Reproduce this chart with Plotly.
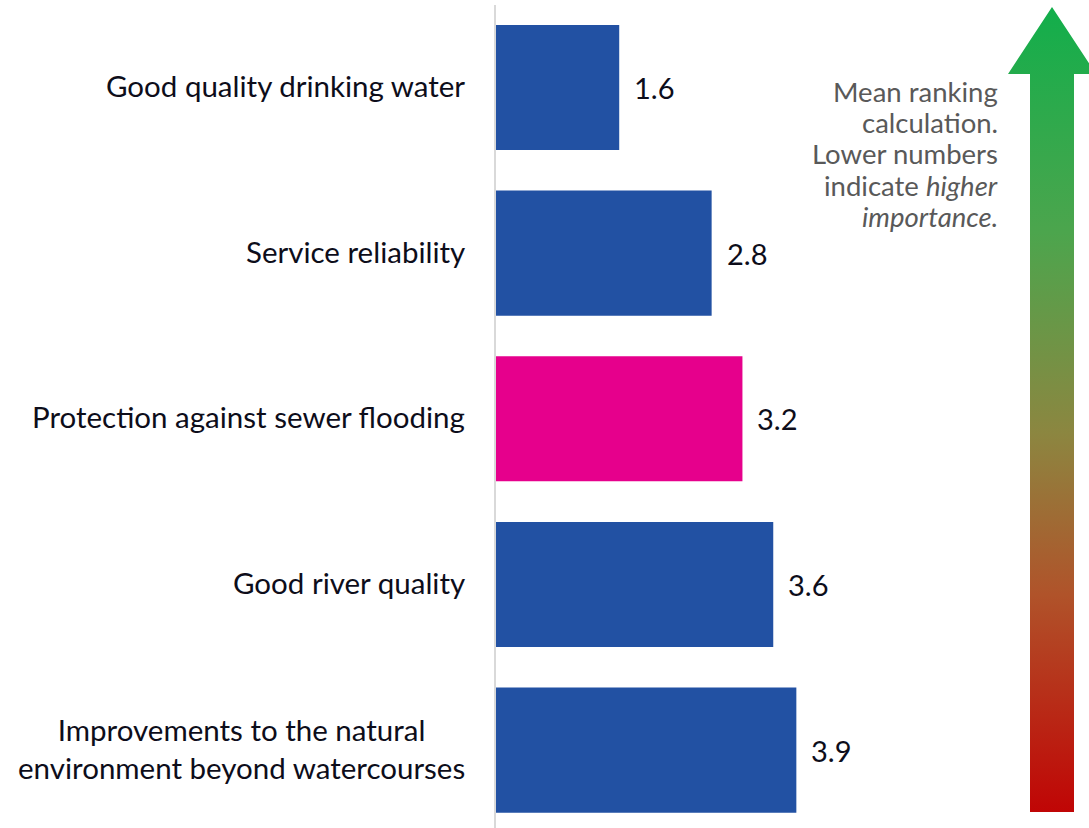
import plotly.graph_objects as go

# Mean ranking per service priority (lower = more important)
categories = [
    "Good quality drinking water",
    "Service reliability",
    "Protection against sewer flooding",
    "Good river quality",
    "Improvements to the natural<br>environment beyond watercourses",
]
mean_rank = [1.6, 2.8, 3.2, 3.6, 3.9]
bar_colors = ["#2251A3", "#2251A3", "#E6008C", "#2251A3", "#2251A3"]

note_lines = [
    "Mean ranking",
    "calculation.",
    "Lower numbers",
    "indicate <i>higher</i>",
    "<i>importance.</i>",
]

FONT = "Lato, 'Open Sans', sans-serif"
TEXT = "#0D0D1A"

W, H = 1089, 828
ML, MT = 496, 5

fig = go.Figure()

fig.add_trace(go.Bar(
    y=categories,
    x=mean_rank,
    orientation="h",
    marker=dict(color=bar_colors, line=dict(width=0)),
    width=0.755,
    hoverinfo="skip",
    showlegend=False,
))

for cat, v in zip(categories, mean_rank):
    # category label, right of the text block sits left of the axis line
    fig.add_annotation(
        x=0, y=cat, xref="x", yref="y",
        text=cat, showarrow=False,
        xanchor="right", align="center", xshift=-29, yshift=2,
        font=dict(family=FONT, size=29.5, color=TEXT),
    )
    # value label just beyond the bar end
    fig.add_annotation(
        x=v, y=cat, xref="x", yref="y",
        text=f"{v:.1f}", showarrow=False,
        xanchor="left", xshift=13,
        font=dict(family=FONT, size=29, color=TEXT),
    )

# gradient arrow on an overlay axis measured in pixels
ax_x = [1052, 1096, 1074, 1074, 1030, 1030, 1008, 1052]
ax_y = [7, 74, 74, 812, 812, 74, 74, 7]
fig.add_trace(go.Scatter(
    x=ax_x, y=ax_y, xaxis="x2", yaxis="y2",
    mode="lines", line=dict(width=0, color="rgba(0,0,0,0)"),
    fill="toself",
    fillgradient=dict(
        type="vertical",
        start=7, stop=812,
        colorscale=[
            [0.0, "#12AE4B"],
            [0.28, "#4CA54D"],
            [0.53, "#8C8640"],
            [0.73, "#B0532A"],
            [1.0, "#C00505"],
        ],
    ),
    hoverinfo="skip",
    showlegend=False,
))

# explanatory note, one annotation per line for tight line spacing
for i, line in enumerate(note_lines):
    fig.add_annotation(
        x=1000, y=91 + i * 31.4, xref="x2", yref="y2",
        xanchor="right", yanchor="middle",
        text=line, showarrow=False,
        font=dict(family=FONT, size=27.5, color="#595959"),
    )

fig.update_layout(
    width=W, height=H,
    margin=dict(l=ML, r=0, t=MT, b=0),
    paper_bgcolor="white", plot_bgcolor="white",
    xaxis=dict(range=[0, 7.7], visible=False, fixedrange=True),
    yaxis=dict(
        range=[4.47, -0.498],
        showgrid=False, zeroline=False,
        showline=True, linecolor="#D9D9D9", linewidth=2,
        ticks="", showticklabels=False,
        fixedrange=True,
    ),
    xaxis2=dict(range=[ML, W], visible=False, overlaying="x", fixedrange=True),
    yaxis2=dict(range=[H, MT], visible=False, overlaying="y", fixedrange=True),
    bargap=0.245,
)

fig.write_html("out.html", config={"displayModeBar": False})
